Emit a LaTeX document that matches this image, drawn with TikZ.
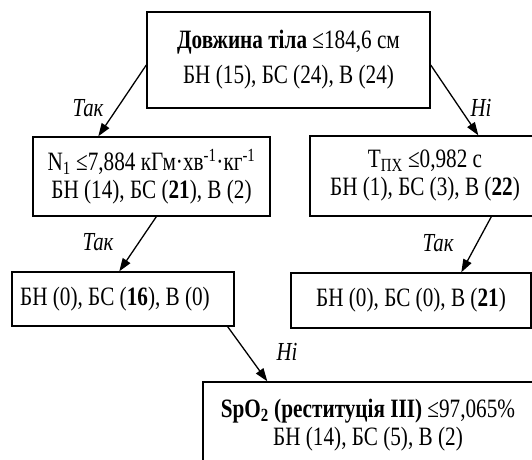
\documentclass[tikz,border=0pt]{standalone}
\usepackage{fontspec}
\setmainfont{Liberation Serif}[FakeStretch=0.8]
\usetikzlibrary{arrows.meta}

\begin{document}
\begin{tikzpicture}[x=1pt,y=-1pt,
  box/.style={draw, line width=1.4pt, inner sep=0pt, align=center,
    font=\fontsize{26.5}{28}\selectfont},
  arr/.style={line width=1.3pt, -{Triangle[length=13pt,width=9pt]}},
  lab/.style={inner sep=0pt, font=\fontsize{26}{28}\selectfont\itshape}]
  \useasboundingbox (0,0) rectangle (532,459);
  \clip (0,0) rectangle (532,459);

  % decision nodes and leaves
  \node[box, minimum width=283pt, minimum height=96pt] (root) at (288.5,60)
    {\textbf{Довжина тіла} ≤184,6 см\\[7pt]БН (15), БС (24), В (24)};
  \node[box, minimum width=237pt, minimum height=79pt] (lc) at (151.5,176.5)
    {N\textsubscript{1} ≤7,884 кГм·хв\textsuperscript{-1}·кг\textsuperscript{-1}\\БН (14), БС (\textbf{21}), В (2)};
  \node[box, minimum width=230pt, minimum height=80pt] (rc) at (425,176)
    {Т\textsubscript{ПХ} ≤0,982 с\\БН (1), БС (3), В (\textbf{22})};
  \node[box, minimum width=222pt, minimum height=54pt] (ll) at (123,299)
    {\makebox[222pt]{\hspace*{-16pt}БН (0), БС (\textbf{16}), В (0)}};
  \node[box, minimum width=240pt, minimum height=55pt] (rl) at (411,300.5)
    {БН (0), БС (0), В (\textbf{21})};
  \node[box, minimum width=330pt, minimum height=86pt] (bt) at (368,425)
    {\textbf{SpO\textsubscript{2} (реституція ІІІ)} ≤97,065\%\\БН (14), БС (5), В (2)};

  % branch labels
  \node[lab] (t1) at (88,108) {Так};
  \node[lab] (n1) at (481,108) {Ні};
  \node[lab] (t2) at (98,242) {Так};
  \node[lab] (t3) at (438,243) {Так};
  \node[lab] (n2) at (287,352) {Ні};

  % connectors
  \draw[arr] ([yshift=-5pt]root.west) -- ([xshift=66pt]lc.north west);
  \draw[arr] ([yshift=-5pt]root.east) -- ([xshift=169pt]rc.north west);
  \draw[arr] ([xshift=124pt]lc.south west) -- ([xshift=108pt]ll.north west);
  \draw[arr] ([xshift=182pt]rc.south west) -- ([xshift=171pt]rl.north west);
  \draw[arr] ([xshift=-7pt]ll.south east) -- ([xshift=65pt]bt.north west);
\end{tikzpicture}
\end{document}
